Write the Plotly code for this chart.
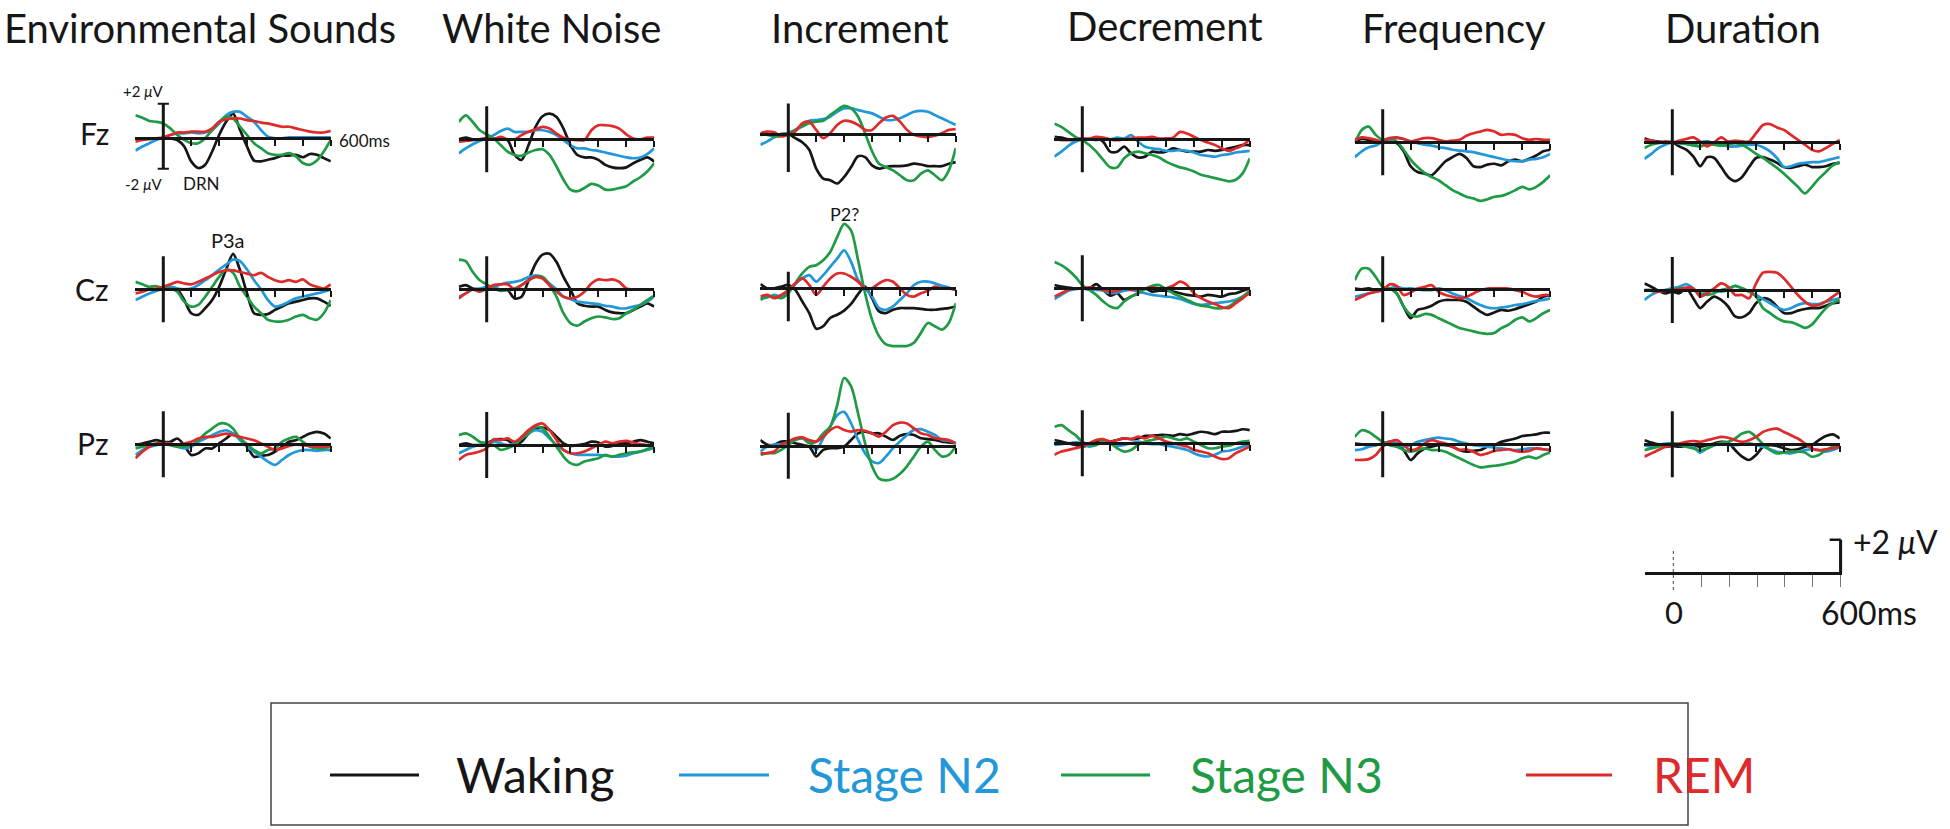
import plotly.graph_objects as go

# ---------------- data (µV) ----------------
TIMES_MS = list(range(-100, 601, 25))
CONDITIONS = ["Environmental Sounds", "White Noise", "Increment", "Decrement", "Frequency", "Duration"]
ELECTRODES = ["Fz", "Cz", "Pz"]
STAGES = ["Waking", "Stage N2", "Stage N3", "REM"]
SCALE_TICKS_MS = [100, 200, 300, 400, 500, 600]

# Environmental Sounds
ENV_FZ_WAKING = [-0.05,-0.05,0,0,0,0,-0.1,-0.5,-1.4,-1.8,-1.6,-0.8,0.2,1.0,1.5,0.5,-0.5,-1.35,-1.4,-1.3,-1.2,-1.05,-1.05,-1.0,-1.15,-0.95,-1.0,-1.2,-1.4]
ENV_FZ_N2 = [-0.75,-0.5,-0.3,-0.1,0.05,0.2,0.3,0.3,0.35,0.3,0.35,0.5,0.9,1.4,1.6,1.6,1.3,1.0,0.5,0.1,0,0,0.05,0.05,0.05,0.05,0.05,0.05,0.05]
ENV_FZ_N3 = [1.4,1.25,1.05,1.0,0.9,0.6,0.2,-0.1,-0.3,-0.3,0,0.5,1.0,1.3,1.2,0.7,0.2,-0.3,-0.6,-0.9,-1.0,-1.0,-0.9,-1.1,-1.5,-1.6,-1.35,-0.8,-0.1]
ENV_FZ_REM = [-0.2,-0.1,-0.05,0,0.05,0.2,0.35,0.35,0.4,0.4,0.4,0.6,1.0,1.15,1.2,1.2,1.1,1.05,0.95,0.9,0.8,0.7,0.7,0.6,0.5,0.4,0.35,0.35,0.45]
ENV_CZ_WAKING = [0,0,0,0,0.05,0.15,0,-0.65,-1.45,-1.55,-1.15,-0.65,0.15,1.2,2.15,1.15,-0.25,-1.45,-1.55,-1.5,-1.25,-1.05,-0.85,-0.75,-0.65,-0.55,-0.55,-0.75,-1.0]
ENV_CZ_N2 = [-0.65,-0.45,-0.25,-0.1,0.05,0.15,0.05,0,0.05,0.25,0.55,0.85,1.2,1.5,1.8,1.7,1.2,0.55,0,-0.65,-1.05,-0.95,-0.75,-0.55,-0.45,-0.35,-0.25,-0.15,0]
ENV_CZ_N3 = [0.45,0.3,0.15,0.2,0.05,0.05,-0.15,-0.75,-1.05,-0.95,-0.45,0.15,0.75,1.2,1.0,0.15,-0.45,-1.05,-1.45,-1.85,-1.95,-1.95,-1.85,-1.65,-1.55,-1.75,-1.85,-1.45,-0.65]
ENV_CZ_REM = [-0.25,-0.15,0,0.05,0.15,0.3,0.45,0.35,0.3,0.45,0.65,0.85,1.05,1.15,1.15,1.05,0.95,0.85,1.0,0.75,0.55,0.45,0.55,0.45,0.6,0.3,0.15,0.05,0.3]
ENV_PZ_WAKING = [-0.05,0.05,0.15,0.25,0.15,0.15,0.35,-0.05,-0.65,-0.55,-0.25,-0.25,0.05,0.35,0.65,0.35,-0.15,-0.75,-0.7,-0.65,-0.45,-0.15,0.15,0.25,0.45,0.65,0.75,0.65,0.35]
ENV_PZ_N2 = [-0.65,-0.35,-0.15,-0.05,0.05,0.05,-0.15,-0.25,-0.15,0.15,0.35,0.55,0.75,0.85,0.65,0.25,-0.15,-0.45,-0.75,-1.05,-1.25,-0.95,-0.65,-0.45,-0.35,-0.35,-0.4,-0.35,-0.35]
ENV_PZ_N3 = [-0.25,-0.15,-0.05,0.05,0.05,-0.05,-0.15,-0.15,-0.05,0.25,0.65,0.95,1.25,1.25,0.95,0.35,0,-0.35,-0.55,-0.35,-0.25,0.15,0.35,0.45,0.15,-0.15,-0.25,-0.25,-0.15]
ENV_PZ_REM = [-0.85,-0.45,-0.15,0.05,0.05,0.05,-0.05,0.05,0.15,0.35,0.45,0.45,0.55,0.65,0.55,0.45,0.35,0.25,0.05,-0.15,-0.35,-0.25,-0.1,0,-0.05,-0.1,-0.15,-0.15,-0.1]

# White Noise
WN_FZ_WAKING = [0,0.1,0,0,0.05,0.05,0,-0.05,-0.95,-1.25,-0.35,0.75,1.4,1.55,1.35,0.65,-0.35,-0.95,-1.1,-1.1,-1.25,-1.55,-1.7,-1.75,-1.7,-1.45,-1.25,-1.1,-1.35]
WN_FZ_N2 = [-0.85,-0.55,-0.3,-0.1,0.05,0.25,0.5,0.65,0.45,0.45,0.45,0.55,0.55,0.45,0.25,-0.05,-0.35,-0.55,-0.55,-0.65,-0.7,-0.8,-0.9,-1.0,-1.1,-1.15,-1.1,-0.9,-0.55]
WN_FZ_N3 = [1.05,1.45,1.05,0.55,0.3,0.05,-0.35,-0.75,-0.95,-1.0,-0.8,-0.65,-0.6,-0.95,-1.65,-2.45,-3.05,-3.15,-2.95,-2.7,-2.8,-3.05,-3.05,-2.95,-2.85,-2.55,-2.3,-1.95,-1.45]
WN_FZ_REM = [-0.15,-0.1,-0.05,0,0.05,0,0.15,0,0,0.25,0.45,0.6,0.75,0.65,0.35,0.1,0,-0.05,-0.05,0.55,0.85,0.85,0.8,0.65,0.3,0.05,0,0.1,0.1]
WN_CZ_WAKING = [0.15,0.25,0.05,0,0,0.05,0,-0.05,-0.55,-0.45,0.55,1.55,2.1,2.15,1.65,0.75,0,-0.85,-1.0,-1.05,-1.05,-1.25,-1.4,-1.45,-1.45,-1.25,-1.05,-0.85,-1.05]
WN_CZ_N2 = [-0.45,-0.25,0,0.05,0.15,0.15,0.3,0.4,0.45,0.55,0.75,0.85,0.75,0.35,0,-0.45,-0.6,-0.75,-0.8,-0.85,-0.9,-1.0,-1.05,-1.15,-1.15,-1.05,-0.95,-0.75,-0.45]
WN_CZ_N3 = [1.8,1.7,1.05,0.55,0.3,0.05,-0.1,-0.05,0.05,0.25,0.55,0.75,0.75,0.25,-0.45,-1.45,-2.05,-2.2,-1.95,-1.75,-1.65,-1.7,-1.8,-1.75,-1.45,-1.25,-0.95,-0.65,-0.4]
WN_CZ_REM = [-0.55,-0.25,0,-0.15,0.05,0.25,0.3,0.3,0,0.25,0.55,0.75,0.65,0.25,-0.15,-0.45,-0.55,-0.45,-0.15,0.35,0.6,0.55,0.6,0.45,0.05,0,0,0,0]
WN_PZ_WAKING = [0,0.1,0,0,0.1,0.3,0.35,0.3,0,0.2,0.7,1.0,1.05,0.9,0.5,0.1,-0.05,0,0.05,0.2,0.15,-0.1,-0.05,0.1,0.1,0.2,0.3,0.2,0.1]
WN_PZ_N2 = [-0.5,-0.3,-0.1,0,0.1,0.2,0.1,0,0.1,0.4,0.7,0.9,0.8,0.4,0,-0.3,-0.5,-0.6,-0.6,-0.6,-0.6,-0.65,-0.7,-0.7,-0.65,-0.5,-0.4,-0.3,-0.2]
WN_PZ_N3 = [0.6,0.7,0.5,0.2,0.1,0,-0.3,-0.2,0,0.4,0.7,1.1,1.0,0.5,-0.1,-0.7,-1.1,-1.2,-1.0,-0.9,-0.8,-0.6,-0.7,-0.6,-0.5,-0.45,-0.4,-0.25,-0.1]
WN_PZ_REM = [-0.9,-0.6,-0.5,-0.4,-0.2,0.35,0.3,0.4,0.2,0.5,0.9,1.2,1.3,0.9,0.3,-0.3,-0.5,-0.5,-0.4,-0.2,0,0.2,0.1,0.2,0.25,0.15,0.05,0,-0.05]

# Increment
INC_FZ_WAKING = [-0.05,0,-0.05,0,0,-0.25,-0.5,-0.95,-2.1,-2.7,-2.8,-3.0,-2.6,-2.0,-1.35,-1.4,-1.9,-2.1,-2.0,-1.95,-1.95,-1.9,-1.8,-1.85,-1.95,-1.95,-1.95,-1.8,-1.7]
INC_FZ_N2 = [-0.65,-0.45,-0.2,-0.1,0.05,0.25,0.55,0.8,0.85,0.9,1.05,1.35,1.55,1.55,1.45,1.35,1.25,1.05,0.85,0.85,0.95,1.15,1.35,1.4,1.35,1.15,0.95,0.75,0.55]
INC_FZ_N3 = [0,-0.05,-0.15,-0.1,0.05,0.25,0.45,0.65,0.75,0.8,1.15,1.45,1.7,1.55,1.05,0.05,-1.05,-1.8,-2.0,-2.2,-2.5,-2.8,-2.8,-2.4,-2.2,-2.5,-2.8,-2.2,-0.85]
INC_FZ_REM = [0.05,0.15,0.1,-0.15,-0.05,0.15,0.65,0.75,0.25,-0.25,0.05,0.55,0.8,0.75,0.55,0.25,0.25,0.65,1.0,1.1,0.75,0.25,-0.05,-0.15,-0.2,-0.1,0.05,0.25,0.3]
INC_CZ_WAKING = [0.25,0,0,0.1,0.2,-0.1,-0.8,-1.5,-2.45,-2.3,-1.8,-1.6,-1.35,-0.95,-0.35,0.1,-0.6,-1.4,-1.5,-1.3,-1.2,-1.2,-1.2,-1.25,-1.3,-1.3,-1.25,-1.2,-1.1]
INC_CZ_N2 = [-0.6,-0.55,-0.4,-0.5,-0.2,0.25,0.6,0.8,0.4,0.8,1.3,1.8,2.3,1.6,0.5,0,-0.5,-1.2,-1.3,-1.1,-0.7,-0.3,0.2,0.4,0.4,0.3,0.15,0.05,-0.1]
INC_CZ_N3 = [-0.7,-0.5,-0.5,-0.6,-0.3,0.3,0.9,1.3,1.4,1.7,2.2,3.1,3.9,3.5,1.7,-0.3,-1.9,-2.9,-3.4,-3.5,-3.5,-3.5,-3.3,-2.7,-2.1,-2.3,-2.5,-2.1,-0.9]
INC_CZ_REM = [-0.5,-0.4,-0.6,-0.4,-0.1,0.3,0.6,0.2,-0.4,0.1,0.6,0.9,0.9,0.7,0.4,0,0,0.3,0.5,0.4,0,-0.4,-0.5,-0.3,-0.15,0.1,0,0,-0.1]
INC_PZ_WAKING = [0.35,0.05,0.05,0.25,0.25,0.15,0.05,-0.05,-0.65,-0.25,-0.15,-0.15,-0.05,0.35,0.75,0.85,0.75,0.75,0.55,0.35,0.6,0.7,0.65,0.45,0.4,0.35,0.25,0.2,0.15]
INC_PZ_N2 = [-0.35,-0.05,0.05,0.1,0.15,0.35,0.45,0.25,-0.25,0.45,1.15,1.85,2.05,1.35,0.35,-0.45,-0.95,-1.05,-0.65,-0.15,0.25,0.65,0.95,1.0,0.85,0.65,0.35,0.3,0.15]
INC_PZ_N3 = [-0.55,-0.45,-0.45,-0.25,0.05,0.35,0.45,0.15,0.25,0.75,1.15,2.45,4.1,3.6,1.95,0.15,-1.25,-2.0,-2.1,-2.0,-1.7,-1.25,-0.65,-0.05,0.25,-0.25,-0.65,-0.55,-0.05]
INC_PZ_REM = [-0.45,-0.45,-0.35,0.05,0.25,0.45,0.5,0.35,0.25,0.55,0.95,1.15,0.95,0.85,0.95,0.9,0.75,0.55,0.85,1.25,1.4,1.35,1.05,0.75,0.65,0.45,0.4,0.35,0.15]

# Decrement
DEC_FZ_WAKING = [0.15,0.1,0,-0.05,0,0,0.1,-0.15,-0.75,-0.75,-0.45,-0.85,-1.1,-1.05,-0.75,-0.8,-0.75,-0.55,-0.65,-0.75,-0.75,-0.75,-0.65,-0.7,-0.65,-0.55,-0.45,-0.35,-0.35]
DEC_FZ_N2 = [-1.05,-0.75,-0.4,-0.15,0,0,-0.05,0.05,0,0.1,0.05,0.25,-0.15,-0.45,-0.55,-0.6,-0.7,-0.7,-0.65,-0.7,-0.8,-0.95,-1.0,-1.05,-0.95,-0.9,-0.8,-0.75,-0.7]
DEC_FZ_N3 = [0.95,0.75,0.45,0.15,-0.05,-0.35,-0.75,-1.25,-1.7,-1.7,-1.15,-0.85,-0.75,-0.85,-0.95,-1.1,-1.35,-1.55,-1.7,-1.8,-1.95,-2.15,-2.25,-2.35,-2.45,-2.55,-2.45,-2.05,-1.15]
DEC_FZ_REM = [0.05,-0.05,-0.05,0,0.05,0.05,0.15,0.1,0,-0.05,0,0.05,0.1,0.1,0.15,0.05,0.05,0.1,0.45,0.35,0.15,-0.05,-0.2,-0.35,-0.55,-0.7,-0.55,-0.35,0]
DEC_CZ_WAKING = [0.2,0.1,0.05,0,0,0,0.25,-0.1,-0.45,-0.3,-0.7,-0.5,-0.3,0,-0.2,-0.15,-0.15,-0.2,-0.3,-0.4,-0.45,-0.5,-0.4,-0.45,-0.5,-0.35,-0.3,-0.15,0]
DEC_CZ_N2 = [-0.65,-0.4,-0.15,-0.05,0,-0.1,-0.1,-0.15,-0.3,-0.25,-0.15,-0.1,-0.2,-0.3,-0.4,-0.45,-0.5,-0.55,-0.65,-0.8,-0.95,-1.0,-0.95,-0.9,-0.85,-0.8,-0.7,-0.5,-0.3]
DEC_CZ_N3 = [1.6,1.4,1.1,0.7,0.2,-0.1,-0.4,-0.8,-1.1,-1.2,-0.8,-0.5,-0.3,-0.05,0.15,0.2,-0.05,-0.3,-0.5,-0.7,-0.9,-1.05,-1.1,-1.2,-1.2,-1.1,-0.8,-0.5,-0.15]
DEC_CZ_REM = [-0.5,-0.3,-0.1,0,0,0.05,0,-0.1,-0.2,-0.15,0,-0.1,-0.05,0,0.05,0,0,0.15,0.4,0.2,-0.3,-0.6,-0.8,-0.95,-1.15,-1.2,-0.9,-0.6,-0.25]
DEC_PZ_WAKING = [0.2,0.1,0,-0.1,-0.2,-0.1,0.1,0.2,0.1,0.2,0.3,0.25,0.3,0.45,0.45,0.5,0.5,0.45,0.55,0.5,0.6,0.7,0.65,0.55,0.7,0.7,0.75,0.85,0.8]
DEC_PZ_N2 = [-0.1,-0.05,0,0.05,0,-0.2,-0.1,0.1,0,-0.15,-0.1,0,0.1,0,-0.05,-0.05,-0.15,-0.2,-0.3,-0.4,-0.6,-0.75,-0.8,-0.7,-0.5,-0.45,-0.35,-0.2,-0.1]
DEC_PZ_N3 = [1.0,1.1,0.8,0.5,0.1,-0.1,-0.1,0.2,0,-0.3,-0.5,-0.4,-0.1,0.1,0.2,0.3,0.4,0.3,0.2,0.3,0.1,-0.1,-0.3,-0.3,-0.2,-0.15,0,0.1,0.15]
DEC_PZ_REM = [-0.7,-0.5,-0.4,-0.3,-0.2,0,0.2,0.25,0.1,0.2,0.3,0.25,0.4,0.3,0.45,0.3,0.1,0,-0.1,-0.2,-0.4,-0.5,-0.6,-0.8,-0.95,-0.9,-0.6,-0.4,-0.2]

# Frequency
FRQ_FZ_WAKING = [0.05,0.2,0.15,0.05,0.05,0.05,-0.05,-0.55,-1.45,-1.8,-1.9,-2.0,-1.6,-1.15,-0.9,-0.7,-0.95,-1.45,-1.5,-1.35,-1.3,-1.4,-1.15,-1.05,-1.15,-1.0,-0.8,-0.55,-0.45]
FRQ_FZ_N2 = [-0.9,-0.55,-0.3,-0.2,0.05,0.15,0.25,0.2,0.05,-0.05,-0.15,-0.2,-0.3,-0.35,-0.45,-0.5,-0.55,-0.6,-0.7,-0.8,-0.9,-1.0,-1.1,-1.15,-1.15,-1.05,-1.0,-0.9,-0.7]
FRQ_FZ_N3 = [-0.05,0.75,0.95,0.45,0.15,0.25,0.05,-0.45,-1.05,-1.5,-1.85,-2.1,-2.3,-2.6,-2.9,-3.1,-3.3,-3.4,-3.55,-3.45,-3.3,-3.25,-3.1,-2.9,-2.7,-2.85,-2.7,-2.4,-2.0]
FRQ_FZ_REM = [0.15,0.3,0.25,0.15,0.05,0.25,0.3,0.2,0.05,0.15,0.25,0.25,0.15,0.05,0.1,0.15,0.4,0.55,0.65,0.75,0.65,0.45,0.5,0.45,0.25,0.15,0.2,0.15,0.15]
FRQ_CZ_WAKING = [0.05,0,0.05,-0.05,0,0.05,-0.25,-1.05,-1.75,-1.25,-1.15,-1.0,-0.75,-0.65,-0.65,-0.65,-0.75,-1.05,-1.35,-1.55,-1.4,-1.25,-1.3,-1.2,-1.05,-0.9,-0.75,-0.45,-0.35]
FRQ_CZ_N2 = [-0.45,-0.35,-0.25,-0.15,-0.05,0.05,0.15,0.05,0.05,0,-0.05,-0.05,0.05,-0.05,-0.25,-0.4,-0.55,-0.75,-0.95,-1.1,-1.15,-1.1,-1.05,-0.95,-0.9,-0.8,-0.7,-0.65,-0.55]
FRQ_CZ_N3 = [0.55,1.25,1.25,0.75,0.15,0.05,-0.25,-1.05,-1.55,-1.65,-1.5,-1.55,-1.75,-1.95,-2.15,-2.35,-2.45,-2.55,-2.65,-2.7,-2.65,-2.35,-2.15,-1.85,-1.7,-1.95,-1.75,-1.45,-1.25]
FRQ_CZ_REM = [-0.65,-0.45,-0.25,-0.15,-0.05,0.3,0.2,-0.35,-0.2,0.05,0.15,0.25,-0.15,-0.35,-0.45,-0.55,-0.45,-0.25,-0.05,0.05,0.05,0.05,0.05,-0.05,-0.15,-0.35,-0.45,-0.35,-0.35]
FRQ_PZ_WAKING = [0.05,0,-0.05,-0.05,0.05,0.15,0.05,-0.35,-0.95,-0.55,-0.25,-0.15,-0.05,-0.05,-0.15,-0.35,-0.45,-0.4,-0.35,-0.15,-0.05,0.15,0.25,0.35,0.5,0.55,0.6,0.7,0.7]
FRQ_PZ_N2 = [-0.35,-0.3,-0.15,-0.05,0.05,0.15,0.05,-0.15,-0.05,0.15,0.25,0.35,0.4,0.35,0.3,0.15,0.05,-0.05,-0.1,-0.15,-0.2,-0.25,-0.3,-0.35,-0.3,-0.25,-0.25,-0.3,-0.35]
FRQ_PZ_N3 = [0.45,0.85,0.75,0.45,0.15,-0.05,-0.15,-0.35,-0.45,-0.35,-0.25,-0.35,-0.35,-0.45,-0.65,-0.85,-1.05,-1.25,-1.4,-1.35,-1.3,-1.25,-1.15,-1.05,-0.85,-0.75,-0.85,-0.65,-0.5]
FRQ_PZ_REM = [-0.95,-0.95,-0.9,-0.65,-0.15,0.15,0.25,-0.05,-0.35,-0.25,0.05,0.25,0.15,0.05,-0.15,-0.35,-0.3,-0.45,-0.65,-0.55,-0.4,-0.35,-0.3,-0.4,-0.45,-0.4,-0.25,-0.3,-0.35]

# Duration
DUR_FZ_WAKING = [0.25,0.1,0.05,0,0,-0.25,-0.45,-0.85,-1.45,-0.9,-0.95,-1.5,-2.1,-2.35,-2.1,-1.5,-0.95,-0.9,-1.05,-1.25,-1.5,-1.55,-1.45,-1.35,-1.5,-1.5,-1.45,-1.3,-1.25]
DUR_FZ_N2 = [-1.0,-0.7,-0.35,-0.15,0,-0.05,-0.1,-0.15,0,0.05,-0.05,-0.15,-0.25,-0.25,-0.2,-0.15,-0.15,-0.3,-0.55,-0.95,-1.5,-1.45,-1.3,-1.25,-1.2,-1.2,-1.1,-1.0,-0.9]
DUR_FZ_N3 = [-0.35,-0.15,-0.05,0,0,-0.05,-0.1,-0.2,-0.25,-0.1,-0.15,-0.2,-0.15,-0.05,-0.15,-0.4,-0.7,-0.95,-1.25,-1.55,-1.9,-2.3,-2.7,-3.1,-2.7,-2.2,-1.8,-1.4,-1.2]
DUR_FZ_REM = [0.15,0.1,0,0.05,0,0.1,0.2,0.3,0.05,-0.25,0,0.3,0.05,0.1,0.05,0.05,0.55,1.05,1.1,0.9,0.75,0.45,0.15,-0.15,-0.45,-0.55,-0.35,-0.1,0.15]
DUR_CZ_WAKING = [0.4,0.2,-0.05,-0.2,-0.1,-0.2,0.1,-0.5,-1.1,-0.7,-0.4,-0.6,-1.0,-1.6,-1.65,-1.4,-0.8,-0.5,-0.6,-1.0,-1.4,-1.4,-1.25,-1.15,-1.1,-1.1,-0.95,-0.8,-0.75]
DUR_CZ_N2 = [-0.6,-0.3,-0.1,0,0.1,0.2,0.35,0.1,-0.3,-0.1,0,-0.1,0,0.25,0.1,-0.1,-0.3,-0.55,-0.8,-1.05,-1.2,-1.1,-0.9,-0.8,-0.85,-0.85,-0.7,-0.6,-0.5]
DUR_CZ_N3 = [0,0,-0.05,0,0,0.1,0.1,0,-0.2,-0.3,-0.2,0,0.1,0.25,0.1,-0.1,-0.4,-1.1,-1.4,-1.7,-1.9,-1.95,-2.1,-2.3,-2.1,-1.6,-1.1,-0.8,-0.6]
DUR_CZ_REM = [0,-0.05,-0.1,-0.05,0,0.05,0.15,0.1,-0.4,-0.2,0.1,0.4,0.2,-0.3,-0.3,-0.5,0.4,1.05,1.1,1.05,0.7,0.2,-0.3,-0.7,-0.95,-0.9,-0.7,-0.4,-0.1]
DUR_PZ_WAKING = [0.25,0.1,0,-0.15,-0.1,-0.15,-0.1,-0.05,-0.15,-0.05,0.05,0.15,0.1,-0.35,-0.75,-0.95,-0.65,-0.15,-0.05,-0.1,-0.25,-0.35,-0.3,-0.15,-0.05,0.25,0.5,0.6,0.35]
DUR_PZ_N2 = [-0.05,-0.15,-0.05,0.05,0.05,-0.05,-0.05,-0.15,-0.5,-0.25,-0.05,0.05,-0.05,-0.05,0,0.05,-0.05,-0.15,-0.3,-0.45,-0.5,-0.55,-0.45,-0.35,-0.3,-0.35,-0.45,-0.35,-0.15]
DUR_PZ_N3 = [-0.35,-0.25,-0.15,-0.05,0.05,0,-0.15,-0.25,-0.35,-0.25,-0.05,0.1,0.15,0.35,0.65,0.75,0.45,0,-0.35,-0.55,-0.5,-0.45,-0.45,-0.5,-0.75,-0.65,-0.35,-0.15,-0.05]
DUR_PZ_REM = [-0.75,-0.55,-0.35,-0.15,-0.05,0.05,0.15,0.2,0.15,0.25,0.35,0.45,0.4,0.25,0.15,0.25,0.45,0.75,0.9,0.95,0.75,0.55,0.35,0.05,-0.25,-0.35,-0.3,-0.25,-0.15]

# table built from the named arrays: [condition][electrode] -> per-stage series
ERP = [
    [[ENV_FZ_WAKING, ENV_FZ_N2, ENV_FZ_N3, ENV_FZ_REM], [ENV_CZ_WAKING, ENV_CZ_N2, ENV_CZ_N3, ENV_CZ_REM], [ENV_PZ_WAKING, ENV_PZ_N2, ENV_PZ_N3, ENV_PZ_REM]],
    [[WN_FZ_WAKING, WN_FZ_N2, WN_FZ_N3, WN_FZ_REM], [WN_CZ_WAKING, WN_CZ_N2, WN_CZ_N3, WN_CZ_REM], [WN_PZ_WAKING, WN_PZ_N2, WN_PZ_N3, WN_PZ_REM]],
    [[INC_FZ_WAKING, INC_FZ_N2, INC_FZ_N3, INC_FZ_REM], [INC_CZ_WAKING, INC_CZ_N2, INC_CZ_N3, INC_CZ_REM], [INC_PZ_WAKING, INC_PZ_N2, INC_PZ_N3, INC_PZ_REM]],
    [[DEC_FZ_WAKING, DEC_FZ_N2, DEC_FZ_N3, DEC_FZ_REM], [DEC_CZ_WAKING, DEC_CZ_N2, DEC_CZ_N3, DEC_CZ_REM], [DEC_PZ_WAKING, DEC_PZ_N2, DEC_PZ_N3, DEC_PZ_REM]],
    [[FRQ_FZ_WAKING, FRQ_FZ_N2, FRQ_FZ_N3, FRQ_FZ_REM], [FRQ_CZ_WAKING, FRQ_CZ_N2, FRQ_CZ_N3, FRQ_CZ_REM], [FRQ_PZ_WAKING, FRQ_PZ_N2, FRQ_PZ_N3, FRQ_PZ_REM]],
    [[DUR_FZ_WAKING, DUR_FZ_N2, DUR_FZ_N3, DUR_FZ_REM], [DUR_CZ_WAKING, DUR_CZ_N2, DUR_CZ_N3, DUR_CZ_REM], [DUR_PZ_WAKING, DUR_PZ_N2, DUR_PZ_N3, DUR_PZ_REM]],
]
for cond in ERP:
    for elec in cond:
        for s in elec:
            assert len(s) == len(TIMES_MS), len(s)

# ---------------- style / layout ----------------
W, H = 1950, 829
FONT = "Lato"
INK = "#161616"
STAGE_COLORS = ["#161616", "#2298d8", "#1f9a45", "#de2a2a"]
PX_PER_MS = 167.5 / 600
PX_PER_UV = 16.5
Y_HALF = 4.5
COL_ZERO_PX = [163.3, 486.7, 788.3, 1082.3, 1382.7, 1672.3]
BASELINE_PX = [[138.3, 289.3, 444.3], [139.3, 289.3, 445.0], [134.0, 288.3, 445.7],
               [139.3, 288.3, 443.3], [142.3, 289.3, 444.3], [142.3, 290.0, 444.3]]
MARKER_SPAN = {(0, 0): (-1.85, 2.1), (2, 0): (-2.3, 1.85), (2, 1): (-2.0, 1.0)}
TITLE_X_PX = [200, 551, 860, 1165, 1454, 1743]
TITLE_Y_PX = [28, 28, 28, 26, 28, 28]


def fx(px):
    return px / W


def fy(py):
    return 1 - py / H


fig = go.Figure()
layout = {}
shapes = []
annotations = []


def add_axes(n, zero_px, base_px, x_max, y_lo, y_hi, tick_color, tick_len, tick_w, line_w):
    xn = "xaxis" if n == 1 else f"xaxis{n}"
    yn = "yaxis" if n == 1 else f"yaxis{n}"
    xr = "x" if n == 1 else f"x{n}"
    yr = "y" if n == 1 else f"y{n}"
    layout[xn] = dict(
        domain=[fx(zero_px - 100 * PX_PER_MS), fx(zero_px + x_max * PX_PER_MS)],
        range=[-100, x_max], anchor="free", position=fy(base_px),
        showline=True, linecolor=INK, linewidth=line_w,
        ticks="outside", tickvals=SCALE_TICKS_MS, ticklen=tick_len, tickwidth=tick_w, tickcolor=tick_color,
        showticklabels=False, showgrid=False, zeroline=False, fixedrange=True)
    layout[yn] = dict(
        domain=[fy(base_px - y_lo * PX_PER_UV), fy(base_px - y_hi * PX_PER_UV)],
        range=[y_lo, y_hi], anchor=xr, visible=False, showgrid=False, zeroline=False, fixedrange=True)
    return xr, yr


n = 0
for c, cond in enumerate(CONDITIONS):
    for r, elec in enumerate(ELECTRODES):
        n += 1
        xr, yr = add_axes(n, COL_ZERO_PX[c], BASELINE_PX[c][r], 600, -Y_HALF, Y_HALF, INK, 6, 2, 3)
        for s, stage in enumerate(STAGES):
            fig.add_trace(go.Scatter(
                x=TIMES_MS, y=ERP[c][r][s], mode="lines", name=stage, showlegend=False,
                line=dict(color=STAGE_COLORS[s], width=2.7, shape="spline", smoothing=0.8),
                xaxis=xr, yaxis=yr, hoverinfo="skip"))
        lo, hi = MARKER_SPAN.get((c, r), (-2.0, 2.0))
        shapes.append(dict(type="line", xref=xr, yref=yr, x0=0, x1=0, y0=lo, y1=hi,
                           line=dict(color=INK, width=3), layer="above"))
        if (c, r) == (0, 0):
            for yv in (lo, hi):
                shapes.append(dict(type="line", xref=xr, yref=yr, x0=-20, x1=20, y0=yv, y1=yv,
                                   line=dict(color=INK, width=2), layer="above"))

# calibration scale bar (bottom right)
n += 1
SB_ZERO, SB_BASE = 1673.3, 572.7
xr, yr = add_axes(n, SB_ZERO, SB_BASE, 605, -1.5, 2.5, "#777777", 12, 1, 3.5)
shapes.append(dict(type="line", xref=xr, yref=yr, x0=0, x1=0, y0=-1.05, y1=1.5,
                   line=dict(color="#444444", width=1, dash="dot")))
shapes.append(dict(type="line", xref=xr, yref=yr, x0=600, x1=600, y0=0, y1=2,
                   line=dict(color=INK, width=3.5)))
shapes.append(dict(type="line", xref=xr, yref=yr, x0=560, x1=600, y0=2, y1=2,
                   line=dict(color=INK, width=2.5)))


def text(px, py, s, size, xanchor="center", color=INK, yanchor="middle"):
    annotations.append(dict(x=fx(px), y=fy(py), xref="paper", yref="paper", text=s, showarrow=False,
                            xanchor=xanchor, yanchor=yanchor, font=dict(family=FONT, size=size, color=color)))


for c, cond in enumerate(CONDITIONS):
    text(TITLE_X_PX[c], TITLE_Y_PX[c], cond, 40)
for r, (elec, py) in enumerate(zip(ELECTRODES, [133, 289, 443])):
    text(111, py, elec, 30, xanchor="right")

text(143, 91, "+2 <i>μ</i>V", 15)
text(143, 184, "-2 <i>μ</i>V", 15)
text(201, 184, "DRN", 17)
text(337, 140, "600ms", 17, xanchor="left")
text(228, 240, "P3a", 20)
text(844, 214, "P2?", 18)

text(1851, 541, "+2 <i>μ</i>V", 32, xanchor="left")
text(1674, 612, "0", 31)
text(1869, 612, "600ms", 32)

# legend box
shapes.append(dict(type="rect", xref="paper", yref="paper", x0=fx(271), x1=fx(1688), y0=fy(825), y1=fy(703),
                   line=dict(color="#444444", width=1.5)))
LEG_LINE_PX = [(330, 419), (679, 769), (1061, 1150), (1526, 1612)]
LEG_TEXT_PX = [454, 806, 1188, 1651]
for s, stage in enumerate(STAGES):
    a, b = LEG_LINE_PX[s]
    shapes.append(dict(type="line", xref="paper", yref="paper", x0=fx(a), x1=fx(b), y0=fy(775), y1=fy(775),
                       line=dict(color=STAGE_COLORS[s], width=3)))
    text(LEG_TEXT_PX[s], 774, stage, 48, xanchor="left", color=STAGE_COLORS[s])

fig.update_layout(
    width=W, height=H, margin=dict(l=0, r=0, t=0, b=0),
    paper_bgcolor="white", plot_bgcolor="rgba(0,0,0,0)", showlegend=False,
    shapes=shapes, annotations=annotations, **layout)
fig.write_html("out.html", config={"displayModeBar": False, "staticPlot": True},
               post_script="document.body.style.margin='0px';document.body.style.overflow='hidden';")
